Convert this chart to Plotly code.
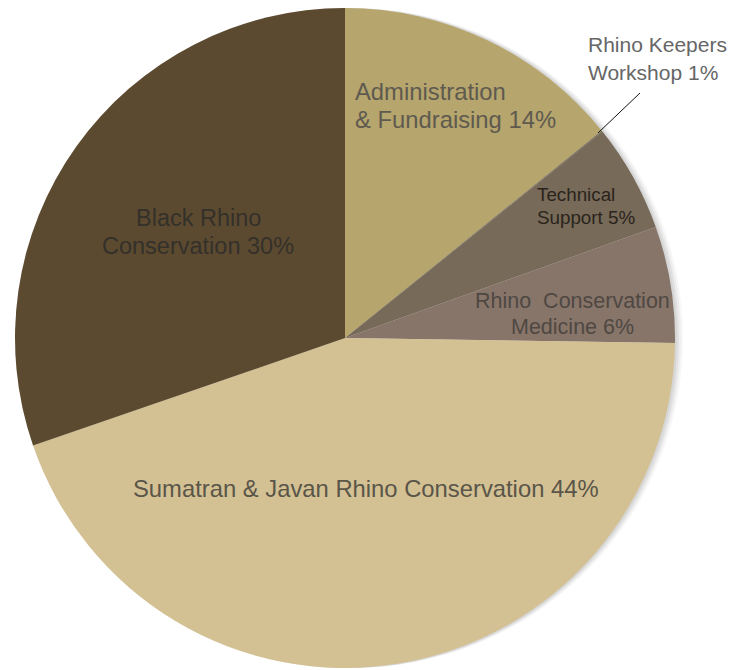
import plotly.graph_objects as go

W, H = 732, 670

# ---- data ----
categories = ["Administration & Fundraising", "Rhino Keepers Workshop", "Technical Support",
              "Rhino Conservation Medicine", "Sumatran & Javan Rhino Conservation",
              "Black Rhino Conservation"]
values = [14.2, 0.05, 5.3, 5.7, 44.5, 30.3]
colors = ["#b6a56c", "#6e6454", "#776a58", "#87756a", "#d3c193", "#5c4a30"]

# label lines: (text lines, anchor, x px, first line y px, line spacing, size, color)
label_lines = [
    (["Administration", "& Fundraising 14%"], "left", 353, 91, 28, 23.8, "#5e5a50"),
    (["Rhino Keepers", "Workshop 1%"], "left", 586, 45, 27, 21, "#666666"),
    (["Technical", "Support 5%"], "left", 535, 194, 23, 18.8, "#2a241c"),
    (["Rhino  Conservation", "Medicine 6%"], "center", 572, 301, 26, 21.5, "#4f4842"),
    (["Black Rhino", "Conservation 30%"], "center", 198, 218, 28, 23.5, "#34302a"),
    (["Sumatran & Javan Rhino Conservation 44%"], "center", 366, 488, 28, 23.8, "#5a5549"),
]

cx, cy, r = 345, 338, 330

fig = go.Figure(go.Pie(
    labels=categories, values=values, sort=False, direction="clockwise", rotation=0,
    marker=dict(colors=colors, line=dict(width=0)),
    textinfo="none", hoverinfo="label+percent", showlegend=False,
    domain=dict(x=[(cx - r) / W, (cx + r) / W], y=[(H - cy - r) / H, (H - cy + r) / H]),
))

shapes = []
# soft shadow
for i, a in enumerate([0.05, 0.05, 0.04, 0.03]):
    off = 2 + i * 2
    shapes.append(dict(type="circle", xref="paper", yref="paper", layer="below",
                       x0=(cx - r + off) / W, x1=(cx + r + off) / W,
                       y0=(H - cy - r) / H, y1=(H - cy + r) / H,
                       line=dict(width=0), fillcolor=f"rgba(0,0,0,{a})"))
# leader line
shapes.append(dict(type="line", xref="paper", yref="paper", x0=598 / W, y0=1 - 133 / H,
                   x1=640 / W, y1=1 - 93 / H, line=dict(color="#111111", width=1)))

annotations = []
for lines, anchor, x, y0, sp, size, col in label_lines:
    for k, t in enumerate(lines):
        annotations.append(dict(text=t, xref="paper", yref="paper", x=x / W,
                                y=1 - (y0 + k * sp) / H, xanchor=anchor, yanchor="middle",
                                showarrow=False,
                                font=dict(family="Liberation Sans, Arial", size=size, color=col)))

fig.update_layout(width=W, height=H, margin=dict(l=0, r=0, t=0, b=0),
                  paper_bgcolor="white", plot_bgcolor="white",
                  shapes=shapes, annotations=annotations)
fig.write_html("out.html")
